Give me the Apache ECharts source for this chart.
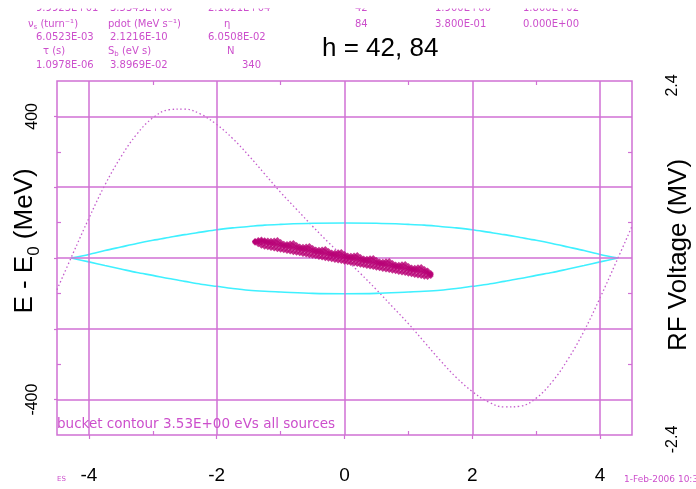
<!DOCTYPE html>
<html>
<head>
<meta charset="utf-8">
<script src="https://cdn.jsdelivr.net/npm/echarts/dist/echarts.min.js"></script>
<style>
  html, body { margin: 0; padding: 0; background: #fff; }
  #chart { width: 696px; height: 489px; }
</style>
</head>
<body>
<div id="chart"></div>
<script>
// Axis ticks and grid values
const xMajor = [-4, -2, 0, 2, 4];
const xMinor = [-3, -1, 1, 3];
const yMajor = [-400, -200, 0, 200, 400];
const yLabels = [-400, 400];
const yMinor = [-300, -100, 100, 300];
const rfLabels = [-2.4, 2.4];
const rfMinor = [-1.44, -0.48, 0.48, 1.44];

// Bucket separatrix (time in ns, energy offset in MeV)
const sepTime  = [-4.28, -4.0, -3.75, -3.5, -3.25, -3.0, -2.75, -2.5, -2.25, -2.0, -1.75, -1.5, -1.25, -1.0, -0.5, 0, 0.5, 1.0, 1.25, 1.5, 1.75, 2.0, 2.25, 2.5, 2.75, 3.0, 3.25, 3.5, 3.75, 4.0, 4.28];
const sepUpper = [0, 10, 21, 31, 41, 50, 58, 66, 73, 80, 85, 89, 93, 95, 98, 99, 98, 95, 93, 89, 85, 80, 73, 66, 58, 50, 41, 31, 21, 10, 0];
const sepLower = [0, -11, -21, -31, -41, -49, -58, -66, -74, -80, -86, -91, -94, -96, -100, -101, -100, -96, -94, -91, -86, -80, -74, -66, -58, -49, -41, -31, -21, -11, 0];

// RF voltage (MV) against time (ns)
const rfTime = [-4.5, -4.25, -4.0, -3.75, -3.5, -3.25, -3.0, -2.75, -2.5, -2.25, -2.0, -1.75, -1.5, -1.25, -1.0, -0.75, -0.5, -0.25, 0, 0.25, 0.5, 0.75, 1.0, 1.25, 1.5, 1.75, 2.0, 2.25, 2.5, 2.75, 3.0, 3.25, 3.5, 3.75, 4.0, 4.25, 4.5];
const rfVoltage = [-0.43, 0.06, 0.54, 0.99, 1.37, 1.68, 1.90, 2.01, 2.02, 1.95, 1.81, 1.62, 1.39, 1.14, 0.89, 0.66, 0.43, 0.21, 0, -0.21, -0.43, -0.66, -0.89, -1.14, -1.39, -1.62, -1.81, -1.95, -2.02, -2.01, -1.90, -1.68, -1.37, -0.99, -0.54, -0.06, 0.43];

// Macro-particles of the bunch: time (ns) with four energy offsets (MeV) across the band
const bunchTime = [-1.40, -1.35, -1.30, -1.25, -1.20, -1.15, -1.10, -1.05, -1.00, -0.95, -0.90, -0.85, -0.80, -0.75, -0.70, -0.65, -0.60, -0.55, -0.50, -0.45, -0.40, -0.35, -0.30, -0.25, -0.20, -0.15, -0.10, -0.05, 0.00, 0.05, 0.10, 0.15, 0.20, 0.25, 0.30, 0.35, 0.40, 0.45, 0.50, 0.55, 0.60, 0.65, 0.70, 0.75, 0.80, 0.85, 0.90, 0.95, 1.00, 1.05, 1.10, 1.15, 1.20, 1.25, 1.30, 1.35];
const bunchHigh = [48.0, 51.0, 52.0, 50.0, 49.1, 48.4, 49.7, 51.0, 45.3, 40.6, 39.9, 41.2, 42.5, 36.9, 32.2, 31.5, 32.8, 34.1, 28.4, 23.7, 23.0, 24.3, 25.6, 20.0, 15.3, 14.6, 15.9, 17.2, 11.5, 6.8, 6.1, 7.4, 8.7, 3.0, -1.6, -2.3, -1.0, 0.3, -5.4, -10.1, -10.8, -9.5, -8.2, -13.9, -18.5, -19.2, -17.9, -16.6, -22.3, -27.0, -27.7, -26.4, -25.1, -30.8, -35.4, -42.1];
const bunchUpMid = [46.8, 47.0, 49.0, 47.3, 44.1, 42.9, 42.7, 42.5, 38.8, 35.6, 34.4, 34.2, 34.0, 30.4, 27.2, 26.0, 25.8, 25.6, 21.9, 18.7, 17.5, 17.3, 17.1, 13.5, 10.3, 9.1, 8.9, 8.7, 5.0, 1.8, 0.6, 0.4, 0.2, -3.5, -6.6, -7.8, -8.0, -8.2, -11.9, -15.1, -16.3, -16.5, -16.7, -20.4, -23.5, -24.7, -24.9, -25.1, -28.8, -32.0, -33.2, -33.4, -33.6, -37.3, -40.4, -45.1];
const bunchMid  = [45.8, 44.5, 43.4, 41.8, 40.1, 38.4, 36.7, 35.0, 33.3, 31.6, 29.9, 28.2, 26.5, 24.9, 23.2, 21.5, 19.8, 18.1, 16.4, 14.7, 13.0, 11.3, 9.6, 8.0, 6.3, 4.6, 2.9, 1.2, -0.5, -2.2, -3.9, -5.6, -7.3, -9.0, -10.6, -12.3, -14.0, -15.7, -17.4, -19.1, -20.8, -22.5, -24.2, -25.9, -27.5, -29.2, -30.9, -32.6, -34.3, -36.0, -37.7, -39.4, -41.1, -42.8, -44.4, -47.1];
const bunchLow  = [43.0, 38.5, 34.4, 31.8, 30.1, 28.4, 26.7, 25.0, 23.3, 21.6, 19.9, 18.2, 16.5, 14.9, 13.2, 11.5, 9.8, 8.1, 6.4, 4.7, 3.0, 1.3, -0.4, -2.0, -3.7, -5.4, -7.1, -8.8, -10.5, -12.2, -13.9, -15.6, -17.3, -19.0, -20.6, -22.3, -24.0, -25.7, -27.4, -29.1, -30.8, -32.5, -34.2, -35.9, -37.5, -39.2, -40.9, -42.6, -44.3, -46.0, -47.7, -49.4, -51.1, -52.8, -53.4, -51.1];

// Parameter table printed above the plot
const headerRows = [
  ['9.9923E+01', '3.5345E+00', '2.1021E+04', '42', '1.900E+00', '1.800E+02'],
  ['{g|ν}{sb|s} (turn⁻¹)', 'pdot (MeV s⁻¹)', 'η', '84', '3.800E-01', '0.000E+00'],
  ['6.0523E-03', '2.1216E-10', '6.0508E-02'],
  ['τ (s)', 'S{sb|b} (eV s)', 'N'],
  ['1.0978E-06', '3.8969E-02', '340']
];
const footnote = 'bucket contour 3.53E+00 eVs all sources';

const PINK = '#d070d4';
const INK = '#cc4fcc';
const SANS = 'Liberation Sans, Arial, sans-serif';
const SMALL = 'DejaVu Sans, sans-serif';

const headerX = [
  [36, 110, 208, 355, 435, 523],
  [28, 108, 224, 355, 435, 523],
  [36, 110, 208],
  [43, 108, 227],
  [36, 110, 242]
];
const headerY = [8.5, 24, 37.5, 51.5, 65];

const graphics = [];
headerRows.forEach(function (row, r) {
  row.forEach(function (txt, c) {
    graphics.push({
      type: 'text', x: headerX[r][c], y: headerY[r], z: 10,
      style: {
        text: txt, fill: INK, font: '10px ' + SMALL,
        textVerticalAlign: 'middle',
        rich: {
          g: { fill: INK, fontSize: 10, fontFamily: SMALL },
          sb: { fill: INK, fontSize: 7, fontFamily: SMALL, verticalAlign: 'bottom', padding: [6, 0, 0, 0] }
        }
      }
    });
  });
});
// white band hiding the clipped top line of the table
graphics.push({ type: 'rect', z: 20, shape: { x: 0, y: 0, width: 696, height: 8.5 }, style: { fill: '#fff' } });
graphics.push({ type: 'text', x: 57, y: 424, z: 10, style: { text: footnote, fill: INK, font: '13.5px ' + SMALL, textVerticalAlign: 'middle' } });
graphics.push({ type: 'text', x: 57, y: 479, z: 10, style: { text: 'ES', fill: INK, font: '7px ' + SMALL, textVerticalAlign: 'middle' } });
graphics.push({ type: 'text', x: 624, y: 480, z: 10, style: { text: '1-Feb-2006 10:37', fill: INK, font: '9px ' + SMALL, textVerticalAlign: 'middle' } });
// axis titles
graphics.push({
  type: 'text', x: 25, y: 241, rotation: Math.PI / 2, z: 10,
  style: {
    text: '{m|E - E}{s|0}{m| (MeV)}', textAlign: 'center', textVerticalAlign: 'middle',
    rich: {
      m: { fontSize: 26, fontFamily: SANS, fill: '#000', lineHeight: 30 },
      s: { fontSize: 17, fontFamily: SANS, fill: '#000', lineHeight: 36, verticalAlign: 'bottom' }
    }
  }
});
graphics.push({
  type: 'text', x: 679, y: 255, rotation: Math.PI / 2, z: 10,
  style: { text: 'RF Voltage (MV)', textAlign: 'center', textVerticalAlign: 'middle', font: '26px ' + SANS, fill: '#000' }
});

const tickLine = { color: PINK, width: 1.2 };
function plainX(pos, ticks, inside) {
  return {
    type: 'value', position: pos, min: -4.5, max: 4.5,
    axisLine: { show: false, onZero: false }, splitLine: { show: false },
    axisTick: { show: true, customValues: ticks, inside: inside, length: 4, lineStyle: tickLine },
    axisLabel: { show: false }
  };
}

const sepUp = sepTime.map(function (t, i) { return [t, sepUpper[i]]; });
const sepDn = sepTime.map(function (t, i) { return [t, sepLower[i]]; });
const rf = rfTime.map(function (t, i) { return [t, rfVoltage[i]]; });
const bunch = [];
bunchTime.forEach(function (t, i) {
  bunch.push([t, bunchHigh[i]], [t, bunchUpMid[i]], [t, bunchMid[i]], [t, bunchLow[i]]);
});

const gridMarks = xMajor.map(function (v) { return { xAxis: v }; })
  .concat(yMajor.map(function (v) { return { yAxis: v }; }));

const chart = echarts.init(document.getElementById('chart'), null, { renderer: 'canvas' });
chart.setOption({
  animation: false,
  backgroundColor: '#fff',
  title: {
    text: 'h = 42, 84', left: 317, top: 31,
    textStyle: { fontFamily: SANS, fontSize: 26, fontWeight: 'normal', color: '#000' }
  },
  graphic: graphics,
  grid: { left: 57, right: 64, top: 81, bottom: 54, show: true, borderColor: PINK, borderWidth: 1.5, backgroundColor: 'transparent' },
  xAxis: [
    {
      type: 'value', position: 'bottom', min: -4.5, max: 4.5,
      axisLine: { show: false, onZero: false }, splitLine: { show: false },
      axisTick: { show: true, customValues: xMajor, inside: false, length: 4, lineStyle: tickLine },
      axisLabel: { customValues: xMajor, margin: 31, fontFamily: SANS, fontSize: 19, color: '#000' }
    },
    plainX('bottom', xMinor, true),
    plainX('top', xMinor, true)
  ],
  yAxis: [
    {
      type: 'value', position: 'left', min: -500, max: 500,
      axisLine: { show: false, onZero: false }, splitLine: { show: false },
      axisTick: { show: true, customValues: yMajor, inside: false, length: 3, lineStyle: tickLine },
      axisLabel: { customValues: yLabels, rotate: 90, align: 'center', verticalAlign: 'bottom', margin: 16, fontFamily: SANS, fontSize: 16, color: '#000' }
    },
    {
      type: 'value', position: 'left', min: -500, max: 500,
      axisLine: { show: false, onZero: false }, splitLine: { show: false },
      axisTick: { show: true, customValues: yMinor, inside: true, length: 4, lineStyle: tickLine },
      axisLabel: { show: false }
    },
    {
      type: 'value', position: 'right', min: -2.4, max: 2.4,
      axisLine: { show: false, onZero: false }, splitLine: { show: false },
      axisTick: { show: true, customValues: rfMinor, inside: true, length: 4, lineStyle: tickLine },
      axisLabel: { customValues: rfLabels, rotate: 90, align: 'center', verticalAlign: 'top', margin: 33, padding: [0, 9, 0, 0], fontFamily: SANS, fontSize: 16, color: '#000' }
    }
  ],
  series: [
    {
      name: 'grid', type: 'line', data: [], z: 1, silent: true,
      markLine: {
        symbol: 'none', silent: true, animation: false, label: { show: false },
        lineStyle: { color: PINK, width: 1.5, type: 'solid' },
        data: gridMarks
      }
    },
    {
      name: 'RF voltage', type: 'line', xAxisIndex: 0, yAxisIndex: 2, data: rf, smooth: 0.4,
      showSymbol: false, z: 3,
      lineStyle: { color: '#c45ccc', width: 1.3, type: [1.5, 2.5] }
    },
    {
      name: 'separatrix upper', type: 'line', data: sepUp, smooth: 0.3, showSymbol: false, z: 4,
      lineStyle: { color: '#3ff0ff', width: 1.6 }
    },
    {
      name: 'separatrix lower', type: 'line', data: sepDn, smooth: 0.3, showSymbol: false, z: 4,
      lineStyle: { color: '#3ff0ff', width: 1.6 }
    },
    {
      name: 'bunch', type: 'scatter', data: bunch, symbol: 'diamond', symbolSize: 6, z: 5,
      itemStyle: { color: '#b80076' }
    }
  ]
});
</script>
</body>
</html>
